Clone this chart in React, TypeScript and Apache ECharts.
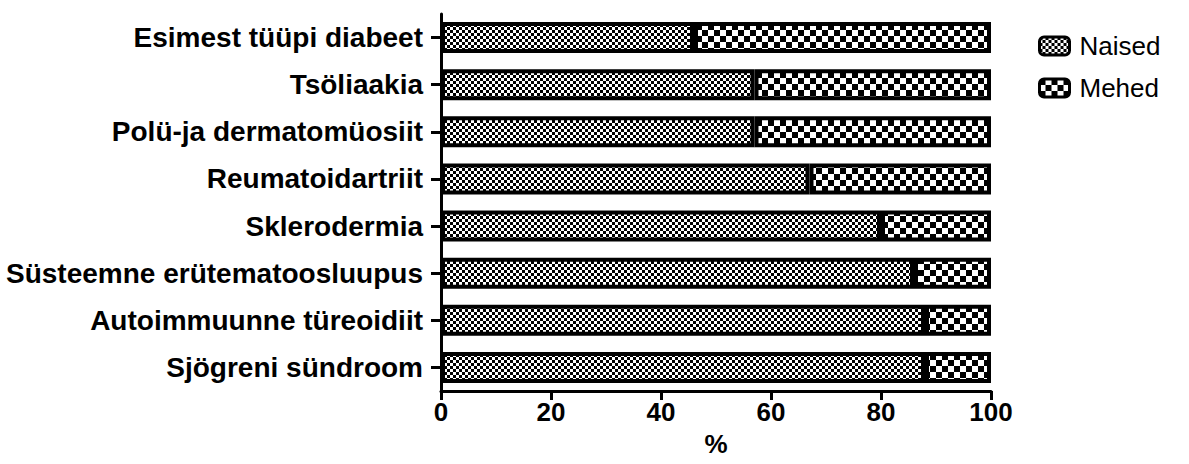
import React, { useEffect, useRef } from "react";
import * as echarts from "echarts";

const categories = [
  "Esimest tüüpi diabeet",
  "Tsöliaakia",
  "Polü-ja dermatomüosiit",
  "Reumatoidartriit",
  "Sklerodermia",
  "Süsteemne erütematoosluupus",
  "Autoimmuunne türeoidiit",
  "Sjögreni sündroom",
];
const naised = [46, 57, 57, 67, 80, 86, 88, 88];
const mehed = [54, 43, 43, 33, 20, 14, 12, 12];
const seriesNames = ["Naised", "Mehed"];

function checker(size: number): HTMLCanvasElement {
  const c = document.createElement("canvas");
  c.width = size * 2;
  c.height = size * 2;
  const ctx = c.getContext("2d")!;
  ctx.fillStyle = "#ffffff";
  ctx.fillRect(0, 0, size * 2, size * 2);
  ctx.fillStyle = "#000000";
  ctx.fillRect(0, 0, size, size);
  ctx.fillRect(size, size, size, size);
  return c;
}

export default function App() {
  const ref = useRef<HTMLDivElement>(null);
  useEffect(() => {
    if (!ref.current) return;
    const chart = echarts.init(ref.current, null, { renderer: "svg" });
    const fine = { image: checker(3), repeat: "repeat" };
    const coarse = { image: checker(6), repeat: "repeat" };
    const font = "'Liberation Sans', Arial, sans-serif";
    chart.setOption({
      animation: false,
      grid: { left: 441, right: 198, top: 14, bottom: 73 },
      legend: {
        orient: "vertical",
        left: 1033,
        top: 26,
        itemWidth: 30,
        itemHeight: 18,
        itemGap: 12,
        icon: "roundRect",
        data: seriesNames,
        itemStyle: { borderWidth: 3, borderColor: "#000" },
        textStyle: { fontFamily: font, fontSize: 26, color: "#000", lineHeight: 30, padding: [0, 0, 0, 5] },
      },
      xAxis: {
        type: "value",
        min: 0,
        max: 100,
        interval: 20,
        name: "%",
        nameLocation: "middle",
        nameGap: 40,
        nameTextStyle: { fontFamily: font, fontSize: 26, fontWeight: "bold", color: "#000" },
        axisLine: { show: true, lineStyle: { color: "#000", width: 3 } },
        axisTick: { show: true, length: 9, lineStyle: { color: "#000", width: 3 } },
        axisLabel: { fontFamily: font, fontSize: 26, fontWeight: "bold", color: "#000", margin: 8 },
        splitLine: { show: false },
      },
      yAxis: {
        type: "category",
        data: categories,
        inverse: true,
        axisLine: { show: true, lineStyle: { color: "#000", width: 3 } },
        axisTick: { show: true, length: 10, alignWithLabel: true, lineStyle: { color: "#000", width: 3 } },
        axisLabel: { fontFamily: font, fontSize: 28, fontWeight: "bold", color: "#000", margin: 18 },
      },
      series: [
        {
          name: seriesNames[0],
          type: "bar",
          stack: "total",
          barWidth: 31,
          data: naised,
          itemStyle: { color: fine, borderColor: "#000", borderWidth: 4 },
        },
        {
          name: seriesNames[1],
          type: "bar",
          stack: "total",
          barWidth: 31,
          data: mehed,
          itemStyle: { color: coarse, borderColor: "#000", borderWidth: 4 },
        },
      ],
    });
    return () => chart.dispose();
  }, []);
  return <div ref={ref} style={{ width: 1189, height: 464, position: "absolute", left: 0, top: 0 }} />;
}
